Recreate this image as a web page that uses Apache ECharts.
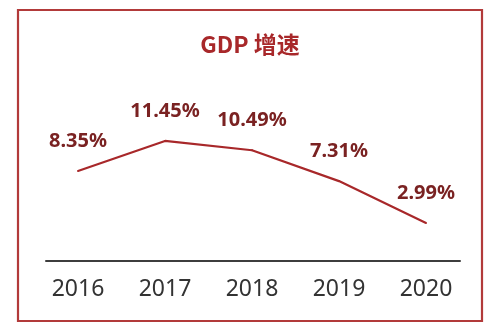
<!DOCTYPE html>
<html>
<head>
<meta charset="utf-8">
<script src="https://cdn.jsdelivr.net/npm/echarts@6/dist/echarts.min.js"></script>
<style>
html,body{margin:0;padding:0;background:#fff;}
#chart{width:500px;height:335px;}
</style>
</head>
<body>
<div id="chart"></div>
<script>
const titleText = 'GDP 增速';
const years = ['2016', '2017', '2018', '2019', '2020'];
const growth = [8.35, 11.45, 10.49, 7.31, 2.99];

const chart = echarts.init(document.getElementById('chart'), null, {renderer: 'canvas'});
chart.setOption({
  animation: false,
  backgroundColor: '#ffffff',
  title: {
    text: titleText,
    left: 'center',
    top: 28,
    textStyle: {
      fontFamily: '"Noto Sans CJK SC", "Noto Sans", sans-serif',
      fontSize: 23,
      fontWeight: 'bold',
      color: '#a8282a'
    }
  },
  graphic: [{
    type: 'rect',
    shape: {x: 18, y: 10, width: 464, height: 311},
    style: {fill: 'none', stroke: '#b23a3a', lineWidth: 2.2},
    silent: true
  }],
  grid: [
    {left: 78, right: 74, top: 135.6, bottom: 83},
    {left: 46, right: 40, top: 135.6, bottom: 74}
  ],
  xAxis: [
    {
      type: 'category',
      gridIndex: 0,
      data: years,
      boundaryGap: false,
      axisLine: {show: false},
      axisTick: {show: false},
      axisLabel: {
        margin: 26,
        fontSize: 23,
        color: '#333333',
        fontFamily: '"Noto Sans", sans-serif'
      }
    },
    {
      type: 'category',
      gridIndex: 1,
      data: years,
      axisLine: {show: true, lineStyle: {color: '#3d3d3d', width: 2}},
      axisTick: {show: false},
      axisLabel: {show: false}
    }
  ],
  yAxis: [
    {type: 'value', gridIndex: 0, min: 0, max: 12, show: false, splitLine: {show: false}},
    {type: 'value', gridIndex: 1, show: false, splitLine: {show: false}}
  ],
  series: [{
    type: 'line',
    xAxisIndex: 0,
    yAxisIndex: 0,
    data: growth,
    showSymbol: true,
    showAllSymbol: true,
    symbol: 'circle',
    symbolSize: 2,
    itemStyle: {color: '#a8282a'},
    lineStyle: {color: '#a8282a', width: 2.2},
    label: {
      show: true,
      position: 'top',
      distance: 19,
      fontSize: 20,
      fontWeight: 'bold',
      color: '#7a2222',
      fontFamily: '"Noto Sans", sans-serif',
      formatter: function (p) { return p.value.toFixed(2) + '%'; }
    }
  }]
});
</script>
</body>
</html>
